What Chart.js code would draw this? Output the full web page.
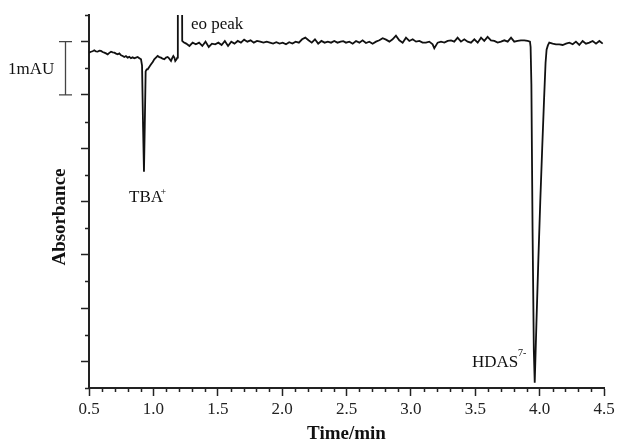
<!DOCTYPE html>
<html>
<head>
<meta charset="utf-8">
<script src="https://cdn.jsdelivr.net/npm/chart.js@4.4.1/dist/chart.umd.min.js"></script>
<style>
    html, body { margin: 0; padding: 0; background: #fff; }
    #wrap { width: 618px; height: 448px; }
</style>
</head>
<body>
<div id="wrap"><canvas id="chart"></canvas></div>
<script>
// electropherogram trace, time in min, absorbance in mAU (0 = top major tick)
var timeMin = [
    0.501, 0.515, 0.528, 0.541, 0.554, 0.567, 0.580, 0.593, 0.606, 0.619,
    0.632, 0.645, 0.658, 0.671, 0.684, 0.697, 0.710, 0.723, 0.736, 0.749,
    0.762, 0.774, 0.787, 0.800, 0.813, 0.826, 0.839, 0.852, 0.865, 0.878,
    0.891, 0.904, 0.912, 0.920, 0.927, 0.933, 0.940, 0.948, 0.956, 0.969,
    0.982, 0.995, 1.007, 1.020, 1.033, 1.046, 1.059, 1.072, 1.085, 1.098,
    1.111, 1.124, 1.137, 1.146, 1.155, 1.163, 1.170, 1.180, 1.186, 1.190,
    1.220, 1.224, 1.235, 1.255, 1.280, 1.305, 1.330, 1.355, 1.380, 1.405,
    1.430, 1.455, 1.480, 1.505, 1.530, 1.555, 1.580, 1.605, 1.630, 1.655,
    1.680, 1.705, 1.730, 1.755, 1.780, 1.805, 1.830, 1.855, 1.880, 1.905,
    1.930, 1.955, 1.980, 2.005, 2.030, 2.055, 2.080, 2.105, 2.130, 2.155,
    2.180, 2.205, 2.230, 2.255, 2.280, 2.305, 2.330, 2.355, 2.380, 2.405,
    2.430, 2.455, 2.475, 2.496, 2.522, 2.548, 2.574, 2.600, 2.625, 2.651,
    2.677, 2.703, 2.729, 2.755, 2.781, 2.807, 2.833, 2.858, 2.884, 2.910,
    2.936, 2.962, 2.988, 3.014, 3.040, 3.066, 3.091, 3.117, 3.143, 3.169,
    3.182, 3.208, 3.234, 3.260, 3.286, 3.312, 3.337, 3.363, 3.389, 3.415,
    3.441, 3.467, 3.493, 3.519, 3.545, 3.570, 3.596, 3.622, 3.648, 3.674,
    3.700, 3.726, 3.752, 3.778, 3.803, 3.829, 3.855, 3.881, 3.907, 3.925,
    3.930, 3.936, 3.945, 3.955, 3.962, 3.975, 3.990, 4.005, 4.020, 4.035,
    4.046, 4.054, 4.064, 4.075, 4.101, 4.127, 4.153, 4.179, 4.205, 4.231, 4.257,
    4.282, 4.308, 4.334, 4.360, 4.386, 4.412, 4.438, 4.464, 4.490
];
var absorbance = [
    -0.206, -0.190, -0.180, -0.163, -0.185, -0.188, -0.170, -0.175, -0.195, -0.206,
    -0.220, -0.238, -0.210, -0.188, -0.200, -0.206, -0.225, -0.238, -0.220, -0.256,
    -0.270, -0.288, -0.270, -0.300, -0.285, -0.310, -0.295, -0.313, -0.300, -0.288,
    -0.310, -0.331, -0.450, -1.600, -2.440, -1.600, -0.560, -0.520, -0.519, -0.470,
    -0.425, -0.380, -0.331, -0.300, -0.269, -0.290, -0.300, -0.320, -0.331, -0.300,
    -0.288, -0.320, -0.363, -0.310, -0.269, -0.300, -0.363, -0.330, -0.300, 3.000,
    3.000, 0.013, -0.010, -0.037, -0.081, -0.019, -0.050, -0.019, -0.081, 0.000,
    -0.100, -0.037, -0.050, -0.019, -0.062, 0.013, -0.081, 0.000, -0.037, 0.013,
    -0.019, 0.037, 0.000, 0.025, -0.019, 0.013, 0.000, -0.019, 0.000, -0.019,
    -0.037, -0.012, -0.037, -0.019, -0.050, -0.012, -0.037, 0.000, -0.019, 0.044,
    0.075, 0.025, -0.019, 0.044, -0.037, 0.013, -0.019, 0.000, -0.019, 0.013,
    -0.019, 0.000, 0.010, -0.019, 0.000, -0.038, 0.013, -0.019, 0.025, -0.025,
    0.000, -0.038, 0.000, 0.025, 0.063, 0.038, 0.000, 0.044, 0.113, 0.025,
    -0.019, 0.075, 0.013, 0.044, 0.000, 0.013, -0.019, -0.019, 0.000, -0.050,
    -0.125, -0.019, 0.000, -0.019, 0.013, 0.025, 0.000, 0.075, 0.000, 0.044,
    0.000, -0.019, 0.044, -0.019, 0.075, 0.013, 0.088, 0.025, 0.013, -0.019,
    0.000, 0.025, 0.000, 0.075, 0.000, 0.013, 0.025, 0.025, 0.013, 0.000,
    -0.100, -0.800, -3.500, -5.800, -6.400, -5.300, -4.100, -3.000, -2.000, -1.050,
    -0.400, -0.150, -0.070, -0.019, -0.038, -0.050, -0.050, -0.063, -0.038, -0.019, -0.050,
    0.000, -0.063, 0.013, -0.038, -0.019, 0.013, -0.038, 0.013, -0.038
];

var xMajorTicks = [0.5, 1.0, 1.5, 2.0, 2.5, 3.0, 3.5, 4.0, 4.5];
var xTickLabels = ['0.5', '1.0', '1.5', '2.0', '2.5', '3.0', '3.5', '4.0', '4.5'];
var xMinorTicks = [0.6, 0.7, 0.8, 0.9, 1.1, 1.2, 1.3, 1.4, 1.6, 1.7, 1.8, 1.9,
    2.1, 2.2, 2.3, 2.4, 2.6, 2.7, 2.8, 2.9, 3.1, 3.2, 3.3, 3.4, 3.6, 3.7, 3.8, 3.9,
    4.1, 4.2, 4.3, 4.4];
var yMajorTicks = [-6, -5, -4, -3, -2, -1, 0];
var yMinorTicks = [-6.5, -5.5, -4.5, -3.5, -2.5, -1.5, -0.5, 0.5];

var serif = '"Liberation Serif", "DejaVu Serif", serif';

var points = timeMin.map(function (t, i) { return { x: t, y: absorbance[i] }; });

// minor ticks, y title, peak labels and the 1 mAU scale bar
var extrasPlugin = {
    id: 'extras',
    afterDraw: function (chart) {
        var ctx = chart.ctx;
        var xs = chart.scales.x, ys = chart.scales.y;
        var area = chart.chartArea;

        ctx.save();
        ctx.strokeStyle = '#222';
        ctx.lineWidth = 1.5;
        ctx.beginPath();
        xMinorTicks.forEach(function (v) {
            var px = Math.round(xs.getPixelForValue(v)) + 0.5;
            ctx.moveTo(px, area.bottom);
            ctx.lineTo(px, area.bottom + 4);
        });
        yMinorTicks.forEach(function (v) {
            var py = Math.round(ys.getPixelForValue(v)) + 0.5;
            ctx.moveTo(area.left, py);
            ctx.lineTo(area.left - 4, py);
        });
        ctx.stroke();

        // 1 mAU bar
        var y0 = ys.getPixelForValue(0), y1 = ys.getPixelForValue(-1);
        ctx.strokeStyle = '#444';
        ctx.lineWidth = 1.3;
        ctx.beginPath();
        ctx.moveTo(65.5, y0); ctx.lineTo(65.5, y1);
        ctx.moveTo(59, y0); ctx.lineTo(72, y0);
        ctx.moveTo(59, y1); ctx.lineTo(72, y1);
        ctx.stroke();

        ctx.fillStyle = '#111';
        ctx.textBaseline = 'middle';
        ctx.textAlign = 'left';
        ctx.font = '17px ' + serif;
        ctx.fillText('1mAU', 8, (y0 + y1) / 2 + 1);
        ctx.fillText('eo peak', xs.getPixelForValue(1.292), ys.getPixelForValue(0.32));
        ctx.fillText('TBA', xs.getPixelForValue(0.811), ys.getPixelForValue(-2.93));
        ctx.fillText('HDAS', xs.getPixelForValue(3.475), ys.getPixelForValue(-6.02));

        ctx.font = '10px ' + serif;
        ctx.fillText('+', xs.getPixelForValue(1.055), ys.getPixelForValue(-2.82));
        ctx.fillText('7-', xs.getPixelForValue(3.833), ys.getPixelForValue(-5.85));

        // y axis title, a little below the centre of the axis
        ctx.translate(60, 217);
        ctx.rotate(-Math.PI / 2);
        ctx.textAlign = 'center';
        ctx.font = 'bold 19px ' + serif;
        ctx.fillText('Absorbance', 0, 0);
        ctx.restore();
    }
};

new Chart(document.getElementById('chart').getContext('2d'), {
    type: 'line',
    data: {
        datasets: [{
            data: points,
            borderColor: '#111',
            borderWidth: 1.8,
            pointRadius: 0,
            tension: 0,
            fill: false
        }]
    },
    options: {
        responsive: true,
        maintainAspectRatio: false,
        animation: false,
        layout: { padding: { left: 0, right: 14, top: 15, bottom: 0 } },
        plugins: {
            legend: { display: false },
            tooltip: { enabled: false }
        },
        scales: {
            x: {
                type: 'linear',
                min: 0.5,
                max: 4.5,
                afterBuildTicks: function (scale) {
                    scale.ticks = xMajorTicks.map(function (v) { return { value: v }; });
                },
                afterFit: function (scale) { scale.height = 60; },
                grid: { drawOnChartArea: false, tickLength: 8, tickColor: '#222', tickWidth: 1.5 },
                border: { display: true, color: '#222', width: 2 },
                ticks: {
                    color: '#222',
                    padding: 3,
                    maxRotation: 0,
                    font: { family: serif, size: 17 },
                    callback: function (v) {
                        var i = xMajorTicks.indexOf(Math.round(v * 10) / 10);
                        return i >= 0 ? xTickLabels[i] : '';
                    }
                },
                title: {
                    display: true,
                    text: 'Time/min',
                    color: '#111',
                    font: { family: serif, size: 19, weight: 'bold' },
                    padding: { top: 0, bottom: 3 }
                }
            },
            y: {
                type: 'linear',
                min: -6.5,
                max: 0.5,
                afterBuildTicks: function (scale) {
                    scale.ticks = yMajorTicks.map(function (v) { return { value: v }; });
                },
                afterFit: function (scale) { scale.width = 89; },
                grid: { drawOnChartArea: false, tickLength: 8, tickColor: '#222', tickWidth: 1.5 },
                border: { display: true, color: '#222', width: 2 },
                ticks: {
                    padding: 0,
                    callback: function () { return ''; }
                },
                title: { display: false }
            }
        }
    },
    plugins: [extrasPlugin]
});
</script>
</body>
</html>
